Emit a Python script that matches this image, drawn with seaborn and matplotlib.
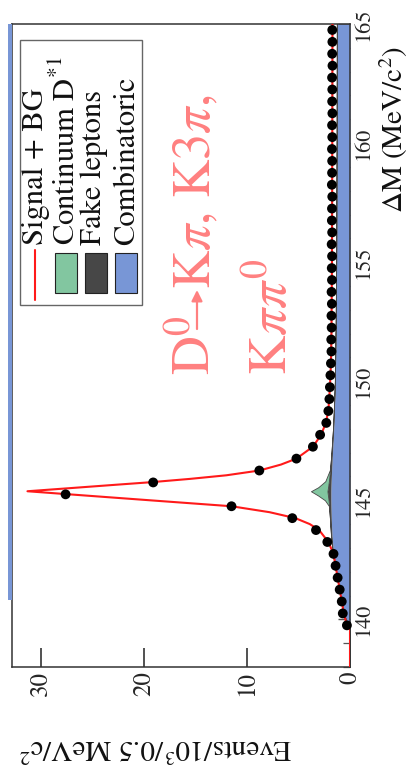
import matplotlib
matplotlib.use("Agg")
import matplotlib.pyplot as plt
from matplotlib.patches import Rectangle, FancyArrowPatch
from matplotlib.lines import Line2D
from matplotlib.ticker import MultipleLocator, FixedLocator
import seaborn as sns
import pandas as pd

# ---------------- data ----------------
data_dm = [139.75, 140.25, 140.75, 141.25, 141.75, 142.25, 142.75, 143.25, 143.75, 144.25,
           144.75, 145.25, 145.75, 146.25, 146.75, 147.25, 147.75, 148.25, 148.75, 149.25,
           149.75, 150.25, 150.75, 151.25, 151.75, 152.25, 152.75, 153.25, 153.75, 154.25,
           154.75, 155.25, 155.75, 156.25, 156.75, 157.25, 157.75, 158.25, 158.75, 159.25,
           159.75, 160.25, 160.75, 161.25, 161.75, 162.25, 162.75, 163.25, 163.75, 164.25,
           164.75]
data_ev = [0.3, 0.7, 0.8, 1.0, 1.2, 1.4, 1.6, 2.2, 3.3, 5.6,
           11.5, 27.6, 19.1, 8.8, 5.2, 3.6, 2.9, 2.3, 2.1, 2.0,
           1.95, 1.9, 1.85, 1.8, 1.82, 1.78, 1.8, 1.76, 1.79, 1.75,
           1.77, 1.74, 1.78, 1.73, 1.76, 1.75, 1.72, 1.76, 1.74, 1.73,
           1.75, 1.72, 1.74, 1.71, 1.73, 1.72, 1.74, 1.7, 1.73, 1.71,
           1.72]

fit_dm = [138.0, 139.57, 139.75, 140.25, 140.75, 141.25, 141.75, 142.25, 142.75, 143.25,
          143.75, 144.0, 144.25, 144.5, 144.75, 145.0, 145.15, 145.3, 145.38, 145.5,
          145.65, 145.76, 145.9, 146.05, 146.25, 146.5, 146.75, 147.25, 147.75, 148.25,
          148.75, 149.75, 150.75, 152.0, 155.0, 160.0, 165.0]
fit_ev = [0.0, 0.0, 0.3, 0.6, 0.8, 1.0, 1.2, 1.4, 1.6, 2.1,
          3.0, 3.9, 5.3, 7.8, 11.5, 19.4, 24.1, 28.8, 31.3, 27.5,
          22.8, 19.3, 15.5, 12.0, 8.8, 6.7, 5.2, 3.6, 2.8, 2.35,
          2.1, 1.95, 1.85, 1.8, 1.75, 1.72, 1.7]

bg_dm = [138.0, 139.57, 139.75, 140.25, 140.75, 141.25, 141.75, 142.25, 142.75, 143.5,
         144.25, 144.75, 145.0, 145.2, 145.38, 145.55, 145.8, 146.3, 147.0, 148.0,
         149.0, 150.0, 152.5, 155.0, 160.0, 165.0]
combinatoric = [0.0, 0.0, 0.25, 0.55, 0.8, 1.0, 1.2, 1.4, 1.6, 1.75,
                1.82, 1.85, 1.86, 1.86, 1.86, 1.85, 1.83, 1.78, 1.7, 1.58,
                1.5, 1.42, 1.35, 1.3, 1.27, 1.25]
fake_leptons = [0.0, 0.0, 0.01, 0.02, 0.03, 0.04, 0.05, 0.06, 0.07, 0.09,
                0.13, 0.18, 0.22, 0.28, 0.33, 0.28, 0.22, 0.15, 0.1, 0.07,
                0.05, 0.05, 0.04, 0.04, 0.03, 0.03]
continuum = [0.0, 0.0, 0.0, 0.0, 0.0, 0.0, 0.0, 0.0, 0.0, 0.0,
             0.0, 0.0, 0.35, 0.95, 1.6, 0.95, 0.35, 0.0, 0.0, 0.0,
             0.0, 0.0, 0.0, 0.0, 0.0, 0.0]

ev_ticks = [0, 10, 20, 30]
dm_ticks = [140, 145, 150, 155, 160, 165]
legend_labels = ["Signal + BG", "Continuum D$^{*1}$", "Fake leptons", "Combinatoric"]
title_parts = [r"D$^{0}$", r"K$\pi$, K3$\pi$,", r"K$\pi\pi^{0}$"]

C_BLUE = "#7896d6"
C_GREEN = "#82c6a0"
C_DARK = "#474747"
C_RED = "#ff1a1a"
C_TITLE = "#ff8080"

# ---------------- style ----------------
sns.set_style("ticks")
plt.rcParams["font.family"] = ["STIXGeneral", "Liberation Serif", "DejaVu Serif"]
plt.rcParams["mathtext.fontset"] = "stix"

W, H = 409, 776
def fx(x):
    return x / W
def fy(y):
    return 1 - y / H

fig = plt.figure(figsize=(W / 100, H / 100), dpi=100)
fig.patch.set_facecolor("white")
ax = fig.add_axes([fx(12), fy(667), (350 - 12) / W, (667 - 24) / H])
ax.set_facecolor("white")
ax.set_axisbelow(True)

# stacked background (rotated: events on x, delta M on y)
df_bg = pd.DataFrame({"dm": bg_dm, "comb": combinatoric, "fake": fake_leptons, "cont": continuum})
lvl1 = df_bg["comb"]
lvl2 = lvl1 + df_bg["fake"]
lvl3 = lvl2 + df_bg["cont"]
ax.fill_betweenx(df_bg["dm"], 0, lvl1, color=C_BLUE, lw=0, zorder=1)
ax.fill_betweenx(df_bg["dm"], lvl1, lvl2, color=C_DARK, lw=0, zorder=1.1)
ax.fill_betweenx(df_bg["dm"], lvl2, lvl3, facecolor=C_GREEN, edgecolor=C_DARK, lw=0.6, zorder=1.2)

df_fit = pd.DataFrame({"dm": fit_dm, "ev": fit_ev})
sns.lineplot(data=df_fit, x="ev", y="dm", orient="y", sort=False, estimator=None,
             color=C_RED, lw=1.5, ax=ax, zorder=3)
df_pts = pd.DataFrame({"dm": data_dm, "ev": data_ev})
sns.scatterplot(data=df_pts, x="ev", y="dm", color="black", s=50, edgecolor="none",
                ax=ax, zorder=4, clip_on=False)

ax.set_xlim(32.8, 0)
ax.set_ylim(138, 165)
ax.set_xlabel("")
ax.set_ylabel("")

for s in ax.spines.values():
    s.set_color("#333333")
    s.set_linewidth(1.1)

ax.xaxis.set_major_locator(FixedLocator(ev_ticks))
ax.tick_params(axis="x", direction="in", length=14, width=1.1, color="#222222",
               labelsize=18, labelrotation=90, pad=3, top=False)
ax.yaxis.set_major_locator(FixedLocator(dm_ticks))
ax.yaxis.set_minor_locator(MultipleLocator(1))
ax.yaxis.tick_right()
ax.tick_params(axis="y", which="major", direction="in", length=9, width=1.0,
               color="#555555", labelsize=16, labelrotation=90, pad=3, left=False)
ax.tick_params(axis="y", which="minor", direction="in", length=5, width=0.9,
               color="#555555", left=False, right=True)
for lab in ax.get_yticklabels():
    lab.set_va("center")

# thin blue strip at the far edge
fig.add_artist(Rectangle((fx(8), fy(600)), 4 / W, (600 - 24) / H, transform=fig.transFigure,
                         facecolor=C_BLUE, edgecolor="none", zorder=5))

# axis labels (rotated layout)
fig.text(fx(403), fy(213), "ΔM (MeV/c$^2$)", rotation=90, rotation_mode="anchor",
         ha="left", va="baseline", fontsize=21, color="#111111")
fig.text(fx(155), fy(747), "Events/10$^3$/0.5 MeV/c$^2$", rotation=180,
         ha="center", va="center", fontsize=21, color="#111111")

# title annotation
fig.text(fx(210), fy(375), title_parts[0], rotation=90, rotation_mode="anchor",
         ha="left", va="baseline", fontsize=39, color=C_TITLE)
fig.add_artist(FancyArrowPatch((fx(197), fy(329)), (fx(197), fy(290)),
                               transform=fig.transFigure, arrowstyle="-|>",
                               mutation_scale=16, lw=1.6, color=C_TITLE,
                               shrinkA=0, shrinkB=0))
fig.text(fx(210), fy(289), title_parts[1], rotation=90, rotation_mode="anchor",
         ha="left", va="baseline", fontsize=38, color=C_TITLE)
fig.text(fx(287), fy(375), title_parts[2], rotation=90, rotation_mode="anchor",
         ha="left", va="baseline", fontsize=39, color=C_TITLE)

# legend (drawn rotated by hand)
fig.add_artist(Rectangle((fx(20), fy(305)), 122 / W, 265 / H, transform=fig.transFigure,
                         facecolor="white", edgecolor="#666666", lw=1.0, zorder=6))
fig.add_artist(Line2D([fx(35), fx(35)], [fy(300), fy(250)], transform=fig.transFigure,
                      color=C_RED, lw=1.5, zorder=7))
for x0, col in [(55, C_GREEN), (85, C_DARK), (115, C_BLUE)]:
    fig.add_artist(Rectangle((fx(x0), fy(293)), 22 / W, 40 / H, transform=fig.transFigure,
                             facecolor=col, edgecolor="#222222", lw=0.8, zorder=7))
for xb, lab in zip([43, 75, 101, 134], legend_labels):
    fig.text(fx(xb), fy(245), lab, rotation=90, rotation_mode="anchor",
             ha="left", va="baseline", fontsize=22, color="#111111", zorder=8)

fig.savefig("out.png", dpi=100, facecolor="white")
